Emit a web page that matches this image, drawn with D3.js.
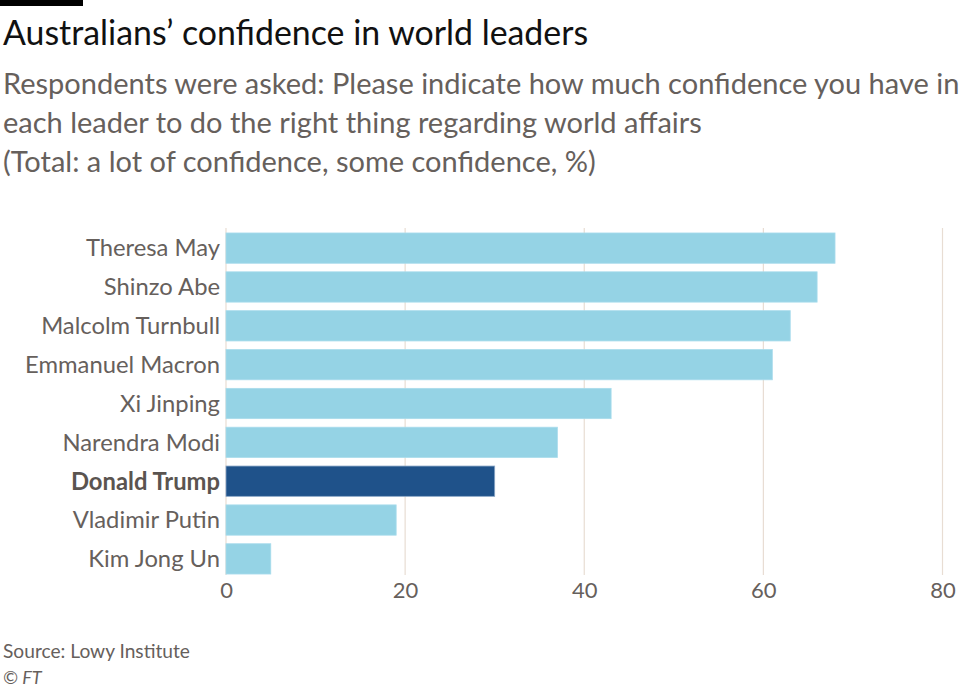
<!DOCTYPE html>
<html>
<head>
<meta charset="utf-8">
<script src="https://cdn.jsdelivr.net/npm/d3@7"></script>
<style>
  html, body { margin: 0; padding: 0; background: #ffffff; }
  svg { display: block; font-family: Lato, "Open Sans", sans-serif; }
</style>
</head>
<body>
<svg id="chart" width="960" height="687"></svg>
<script>
const leaders = ["Theresa May", "Shinzo Abe", "Malcolm Turnbull", "Emmanuel Macron", "Xi Jinping", "Narendra Modi", "Donald Trump", "Vladimir Putin", "Kim Jong Un"];
const confidence = [68, 66, 63, 61, 43, 37, 30, 19, 5];
const highlighted = ["Donald Trump"];
const xTicks = [0, 20, 40, 60, 80];
const titleText = "Australians’ confidence in world leaders";
const subtitleLines = [
  "Respondents were asked: Please indicate how much confidence you have in",
  "each leader to do the right thing regarding world affairs",
  "(Total: a lot of confidence, some confidence, %)"
];
const sourceText = "Source: Lowy Institute";
const creditText = "© FT";

const svg = d3.select("#chart");
const grey = "#66605c";

function fitWidth(sel, target) {
  const w = sel.node().getComputedTextLength();
  const fs = parseFloat(sel.attr("font-size"));
  sel.attr("font-size", (fs * target / w).toFixed(2));
}

// top rule
svg.append("rect").attr("x", 0).attr("y", 0).attr("width", 83).attr("height", 6).attr("fill", "#000");

const title = svg.append("text").attr("x", 3).attr("y", 45)
  .attr("font-size", 31).attr("fill", "#111").text(titleText);
fitWidth(title, 585);

const subBase = [94, 133, 172];
const subTargets = [955, 705, 589];
let subSizes = [];
subtitleLines.forEach((t, i) => {
  const s = svg.append("text").attr("x", 3).attr("y", subBase[i])
    .attr("font-size", 25).attr("fill", grey).text(t);
  const w = s.node().getComputedTextLength();
  subSizes.push(25 * subTargets[i] / w);
  s.classed("sub", true);
});
const subSize = d3.mean(subSizes);
svg.selectAll("text.sub").attr("font-size", subSize.toFixed(2));

// scales
const x = d3.scaleLinear().domain([0, 80]).range([226, 942.5]);
const y = d3.scaleBand().domain(leaders).range([228.7, 578.3]).paddingInner(0.22).paddingOuter(0.11);

// gridlines
svg.append("g").selectAll("line").data(xTicks).join("line")
  .attr("x1", d => x(d)).attr("x2", d => x(d))
  .attr("y1", 228).attr("y2", 575)
  .attr("stroke", "#e8ddd3").attr("stroke-width", 1.2);

// bars
svg.append("g").selectAll("rect").data(leaders).join("rect")
  .attr("x", x(0))
  .attr("y", d => y(d))
  .attr("width", (d, i) => x(confidence[i]) - x(0))
  .attr("height", y.bandwidth())
  .attr("fill", d => highlighted.includes(d) ? "#1f528a" : "#95d3e5")
  .attr("stroke", d => highlighted.includes(d) ? "#8aa6c6" : "#a9dcec")
  .attr("stroke-width", 0.8);

// y labels
const yLab = svg.append("g").selectAll("text").data(leaders).join("text")
  .attr("x", 220)
  .attr("y", d => y(d) + y.bandwidth() / 2)
  .attr("dy", "0.35em")
  .attr("text-anchor", "end")
  .attr("font-size", 22)
  .attr("font-weight", d => highlighted.includes(d) ? "bold" : "normal")
  .attr("fill", d => highlighted.includes(d) ? "#5a5450" : grey)
  .text(d => d);
const macron = yLab.filter(d => d === "Emmanuel Macron");
const mw = macron.node().getComputedTextLength();
yLab.attr("font-size", (22 * 195 / mw).toFixed(2));

// x axis labels
const xAxis = d3.axisBottom(x).tickValues(xTicks).tickSize(0).tickPadding(0);
const gx = svg.append("g").attr("transform", "translate(0,582)").call(xAxis);
gx.select(".domain").remove();
gx.selectAll("text").attr("font-size", 22).attr("fill", grey)
  .attr("font-family", "Lato, 'Open Sans', sans-serif").attr("dy", "0.72em");

// footer
svg.append("text").attr("x", 3).attr("y", 658).attr("font-size", 18).attr("fill", grey).text(sourceText)
  .call(s => fitWidth(s, 187));
svg.append("text").attr("x", 3).attr("y", 684).attr("font-size", 18).attr("font-style", "italic")
  .attr("fill", grey).text(creditText);
</script>
</body>
</html>
